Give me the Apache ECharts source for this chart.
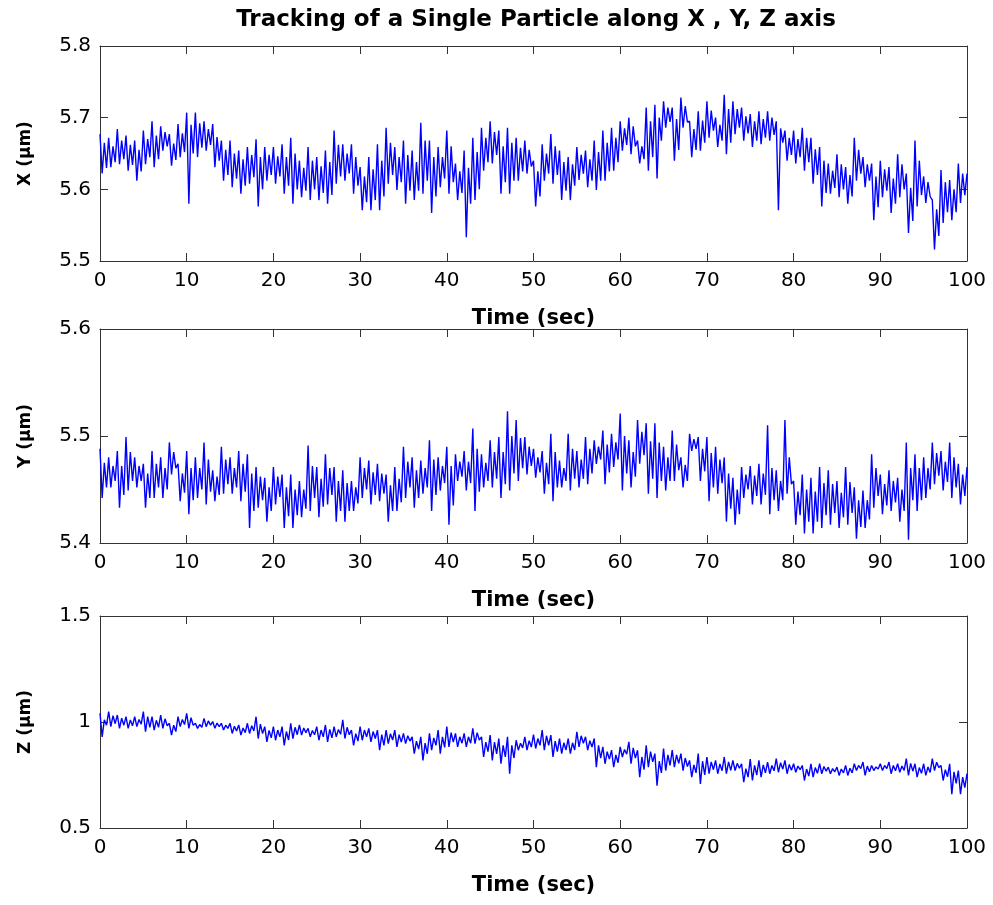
<!DOCTYPE html>
<html>
<head>
<meta charset="utf-8">
<script src="https://cdn.jsdelivr.net/npm/echarts@6/dist/echarts.min.js"></script>
<style>
html,body{margin:0;padding:0;background:#fff;}
#chart{width:993px;height:905px;}
</style>
</head>
<body>
<div id="chart"></div>
<script>
// Four readings per second: t (hi), t+0.25 (lo), t+0.5 (hi2), t+0.75 (lo2), t = 0..100
const timeSeconds = [0,1,2,3,4,5,6,7,8,9,10,11,12,13,14,15,16,17,18,19,20,21,22,23,24,25,26,27,28,29,30,31,32,33,34,35,36,37,38,39,40,41,42,43,44,45,46,47,48,49,50,51,52,53,54,55,56,57,58,59,60,61,62,63,64,65,66,67,68,69,70,71,72,73,74,75,76,77,78,79,80,81,82,83,84,85,86,87,88,89,90,91,92,93,94,95,96,97,98,99,100];

const xHi = [5.677,5.672,5.684,5.675,5.668,5.682,5.695,5.688,5.677,5.691,
5.707,5.707,5.695,5.691,5.668,5.668,5.654,5.659,5.670,5.659,
5.659,5.663,5.672,5.640,5.659,5.645,5.654,5.682,5.663,5.663,
5.631,5.645,5.663,5.686,5.659,5.668,5.654,5.693,5.668,5.659,
5.682,5.636,5.654,5.672,5.686,5.695,5.682,5.686,5.672,5.668,
5.640,5.663,5.677,5.654,5.645,5.659,5.654,5.668,5.682,5.686,
5.695,5.700,5.668,5.714,5.718,5.723,5.714,5.728,5.695,5.709,
5.723,5.700,5.732,5.723,5.714,5.705,5.709,5.709,5.695,5.682,
5.682,5.686,5.672,5.659,5.636,5.649,5.631,5.672,5.645,5.636,
5.640,5.631,5.649,5.622,5.668,5.618,5.585,5.627,5.613,5.636,5.622];
const xLo = [5.622,5.631,5.635,5.626,5.612,5.635,5.631,5.654,5.633,5.645,
5.580,5.645,5.654,5.631,5.612,5.603,5.594,5.608,5.576,5.612,
5.608,5.594,5.580,5.589,5.585,5.585,5.580,5.608,5.612,5.594,
5.571,5.571,5.571,5.608,5.599,5.580,5.585,5.594,5.567,5.603,
5.594,5.585,5.533,5.585,5.626,5.636,5.594,5.594,5.612,5.622,
5.576,5.612,5.608,5.585,5.585,5.613,5.603,5.599,5.612,5.626,
5.654,5.649,5.636,5.626,5.615,5.686,5.640,5.686,5.645,5.654,
5.672,5.659,5.649,5.677,5.668,5.659,5.663,5.668,5.571,5.640,
5.636,5.626,5.608,5.576,5.594,5.589,5.580,5.612,5.603,5.557,
5.589,5.567,5.589,5.539,5.576,5.581,5.516,5.553,5.557,5.581,5.590];
const xHi2 = [5.665,5.660,5.668,5.662,5.655,5.670,5.675,5.680,5.664,5.678,
5.690,5.692,5.684,5.673,5.655,5.650,5.642,5.648,5.645,5.648,
5.646,5.645,5.650,5.630,5.640,5.632,5.638,5.662,5.650,5.645,
5.618,5.628,5.640,5.665,5.645,5.648,5.638,5.668,5.645,5.645,
5.660,5.625,5.630,5.652,5.672,5.680,5.660,5.665,5.658,5.655,
5.625,5.650,5.660,5.638,5.635,5.648,5.642,5.652,5.665,5.672,
5.685,5.688,5.660,5.695,5.700,5.714,5.698,5.716,5.684,5.696,
5.710,5.690,5.712,5.712,5.702,5.695,5.698,5.700,5.685,5.672,
5.670,5.672,5.656,5.640,5.626,5.635,5.620,5.655,5.635,5.618,
5.628,5.615,5.635,5.602,5.640,5.610,5.572,5.610,5.600,5.622,5.610];
const xLo2 = [5.630,5.638,5.642,5.634,5.625,5.645,5.642,5.660,5.641,5.652,
5.650,5.658,5.662,5.640,5.620,5.615,5.605,5.617,5.600,5.620,
5.618,5.605,5.600,5.598,5.600,5.595,5.592,5.618,5.622,5.605,
5.582,5.585,5.590,5.620,5.610,5.598,5.598,5.612,5.590,5.615,
5.610,5.595,5.580,5.600,5.638,5.648,5.610,5.612,5.625,5.632,
5.590,5.622,5.620,5.598,5.605,5.622,5.612,5.612,5.625,5.638,
5.662,5.660,5.642,5.645,5.668,5.694,5.655,5.694,5.655,5.665,
5.682,5.668,5.665,5.686,5.678,5.668,5.672,5.676,5.665,5.648,
5.645,5.638,5.620,5.595,5.602,5.600,5.590,5.622,5.612,5.575,
5.598,5.580,5.600,5.556,5.592,5.590,5.535,5.568,5.568,5.592,5.600];

const yHi = [5.488,5.480,5.486,5.499,5.480,5.474,5.486,5.480,5.494,5.474,
5.486,5.480,5.494,5.468,5.490,5.480,5.486,5.483,5.471,5.461,
5.471,5.464,5.464,5.458,5.491,5.471,5.483,5.471,5.468,5.458,
5.480,5.477,5.474,5.464,5.471,5.490,5.480,5.477,5.496,5.480,
5.490,5.483,5.486,5.507,5.483,5.496,5.499,5.523,5.515,5.499,
5.488,5.486,5.502,5.477,5.502,5.486,5.499,5.496,5.505,5.502,
5.521,5.496,5.515,5.512,5.512,5.490,5.505,5.480,5.502,5.499,
5.499,5.490,5.480,5.461,5.471,5.472,5.474,5.510,5.468,5.515,
5.458,5.464,5.461,5.471,5.468,5.458,5.471,5.452,5.449,5.483,
5.464,5.468,5.461,5.494,5.483,5.480,5.494,5.486,5.494,5.474,5.471];
const yLo = [5.442,5.452,5.433,5.449,5.452,5.433,5.442,5.442,5.464,5.439,
5.427,5.442,5.436,5.439,5.446,5.446,5.439,5.414,5.433,5.420,
5.436,5.414,5.414,5.424,5.430,5.424,5.436,5.420,5.420,5.430,
5.442,5.436,5.439,5.420,5.430,5.442,5.433,5.446,5.430,5.449,
5.417,5.458,5.449,5.430,5.452,5.452,5.442,5.449,5.458,5.464,
5.461,5.446,5.439,5.452,5.449,5.452,5.455,5.474,5.455,5.471,
5.449,5.452,5.474,5.446,5.442,5.449,5.458,5.452,5.486,5.458,
5.439,5.446,5.420,5.417,5.442,5.436,5.436,5.427,5.430,5.446,
5.417,5.409,5.409,5.414,5.417,5.414,5.417,5.404,5.414,5.433,
5.427,5.430,5.420,5.403,5.430,5.442,5.455,5.449,5.442,5.436,5.433];
const yHi2 = [5.475,5.472,5.472,5.485,5.472,5.465,5.474,5.470,5.485,5.465,
5.470,5.470,5.478,5.462,5.478,5.470,5.474,5.465,5.462,5.452,
5.462,5.452,5.450,5.450,5.472,5.460,5.470,5.458,5.456,5.452,
5.470,5.466,5.465,5.454,5.460,5.476,5.468,5.470,5.478,5.472,
5.472,5.476,5.476,5.488,5.475,5.485,5.485,5.500,5.498,5.490,
5.480,5.475,5.485,5.470,5.488,5.478,5.488,5.490,5.492,5.494,
5.500,5.485,5.504,5.495,5.494,5.480,5.492,5.473,5.497,5.488,
5.484,5.478,5.465,5.450,5.464,5.463,5.465,5.470,5.458,5.480,
5.448,5.450,5.448,5.456,5.455,5.447,5.457,5.440,5.440,5.470,
5.455,5.458,5.450,5.470,5.470,5.470,5.484,5.476,5.480,5.464,5.460];
const yLo2 = [5.452,5.458,5.445,5.458,5.458,5.442,5.452,5.450,5.470,5.447,
5.440,5.450,5.448,5.445,5.455,5.452,5.448,5.430,5.440,5.430,
5.443,5.425,5.426,5.432,5.442,5.434,5.445,5.430,5.430,5.437,
5.450,5.445,5.446,5.430,5.438,5.452,5.442,5.452,5.445,5.456,
5.435,5.462,5.456,5.448,5.458,5.460,5.455,5.465,5.470,5.472,
5.466,5.455,5.452,5.458,5.460,5.460,5.465,5.478,5.466,5.478,
5.465,5.462,5.482,5.460,5.458,5.458,5.468,5.458,5.488,5.467,
5.452,5.456,5.432,5.427,5.450,5.444,5.445,5.440,5.440,5.455,
5.426,5.420,5.420,5.426,5.428,5.424,5.428,5.415,5.422,5.444,
5.435,5.438,5.430,5.440,5.440,5.450,5.463,5.457,5.452,5.444,5.440];

const zHi = [1.041,1.049,1.033,1.025,1.025,1.049,1.025,1.033,0.994,1.025,
1.041,0.994,1.017,1.002,0.994,0.994,0.986,0.994,1.025,0.978,
0.978,0.978,0.994,0.986,0.970,0.978,0.986,0.978,1.010,0.962,
0.978,0.970,0.962,0.962,0.962,0.946,0.930,0.930,0.946,0.962,
0.978,0.946,0.946,0.970,0.930,0.938,0.922,0.930,0.914,0.930,
0.940,0.962,0.938,0.922,0.922,0.954,0.930,0.922,0.883,0.867,
0.883,0.906,0.867,0.890,0.851,0.875,0.867,0.851,0.819,0.851,
0.835,0.819,0.835,0.819,0.803,0.825,0.819,0.811,0.827,0.819,
0.803,0.795,0.803,0.803,0.787,0.787,0.795,0.803,0.811,0.795,
0.803,0.811,0.803,0.827,0.803,0.803,0.827,0.795,0.803,0.771,0.756];
const zLo = [0.930,0.978,0.970,0.970,0.978,0.954,0.962,0.970,0.938,0.978,
0.970,0.970,0.978,0.970,0.962,0.946,0.938,0.946,0.922,0.906,
0.914,0.890,0.922,0.938,0.930,0.914,0.906,0.930,0.922,0.890,
0.914,0.906,0.867,0.898,0.883,0.898,0.851,0.819,0.867,0.851,
0.883,0.883,0.883,0.898,0.835,0.819,0.803,0.756,0.867,0.867,
0.875,0.867,0.835,0.851,0.851,0.883,0.867,0.787,0.803,0.787,
0.835,0.803,0.740,0.787,0.700,0.771,0.787,0.771,0.740,0.708,
0.756,0.756,0.756,0.771,0.716,0.724,0.740,0.756,0.763,0.756,
0.763,0.724,0.740,0.756,0.756,0.748,0.748,0.771,0.748,0.771,
0.771,0.756,0.763,0.748,0.740,0.748,0.771,0.724,0.660,0.660,0.613];
const zHi2 = [1.010,1.030,1.018,1.010,1.012,1.025,1.008,1.015,0.985,1.012,
1.020,0.988,1.005,0.995,0.985,0.980,0.972,0.982,0.990,0.960,
0.962,0.955,0.975,0.972,0.960,0.962,0.965,0.965,0.975,0.945,
0.962,0.955,0.940,0.945,0.940,0.935,0.910,0.900,0.925,0.930,
0.950,0.930,0.930,0.950,0.905,0.905,0.890,0.890,0.900,0.912,
0.922,0.935,0.910,0.902,0.902,0.935,0.912,0.890,0.860,0.845,
0.870,0.878,0.835,0.860,0.815,0.845,0.845,0.830,0.798,0.815,
0.812,0.802,0.812,0.805,0.780,0.795,0.798,0.795,0.808,0.800,
0.792,0.778,0.785,0.790,0.780,0.778,0.782,0.795,0.792,0.788,
0.795,0.795,0.792,0.805,0.785,0.788,0.810,0.775,0.765,0.740,0.700];
const zLo2 = [0.985,0.992,0.985,0.982,0.990,0.975,0.975,0.982,0.955,0.988,
0.985,0.975,0.985,0.978,0.970,0.958,0.950,0.958,0.945,0.925,
0.930,0.915,0.940,0.950,0.940,0.930,0.925,0.942,0.940,0.910,
0.930,0.922,0.890,0.915,0.905,0.910,0.872,0.850,0.890,0.880,
0.905,0.900,0.900,0.915,0.860,0.850,0.835,0.830,0.878,0.882,
0.890,0.890,0.860,0.868,0.868,0.900,0.882,0.830,0.825,0.808,
0.848,0.830,0.775,0.812,0.760,0.795,0.805,0.790,0.760,0.750,
0.775,0.770,0.772,0.782,0.740,0.750,0.760,0.770,0.778,0.772,
0.775,0.745,0.758,0.768,0.765,0.760,0.760,0.780,0.765,0.778,
0.780,0.770,0.772,0.768,0.758,0.762,0.785,0.742,0.710,0.690,0.650];

const titleText = 'Tracking of a Single Particle along X , Y, Z axis';
const xAxisName = 'Time (sec)';
const yNames = ['X (\u03bcm)', 'Y (\u03bcm)', 'Z (\u03bcm)'];
const yRanges = [[5.5, 5.8, 0.1], [5.4, 5.6, 0.1], [0.5, 1.5, 0.5]];
const xRange = [0, 100, 10];

function buildSeries(hi, lo, hi2, lo2) {
  const out = [];
  const offsets = [0, 0.25, 0.5, 0.75];
  const cols = [hi, lo, hi2, lo2];
  for (let i = 0; i < timeSeconds.length; i++) {
    for (let k = 0; k < 4; k++) {
      const t = timeSeconds[i] + offsets[k];
      if (t <= xRange[1]) out.push([t, cols[k][i]]);
    }
  }
  return out;
}

const FONT = 'DejaVu Sans, Liberation Sans, Arial, sans-serif';
const frameColor = '#333';
const grids = [
  {left: 100, right: 26, top: 46, height: 215},
  {left: 100, right: 26, top: 329, height: 214},
  {left: 100, right: 26, top: 616, height: 212}
];

const xAxes = [], yAxes = [];
grids.forEach((g, i) => {
  xAxes.push({
    type: 'value', gridIndex: i, min: xRange[0], max: xRange[1], interval: xRange[2],
    position: 'bottom',
    axisLine: {onZero: false, lineStyle: {color: frameColor, width: 1}},
    axisTick: {inside: true, length: 8, lineStyle: {color: frameColor}},
    axisLabel: {fontSize: 20, color: '#000', fontFamily: FONT, margin: 10},
    splitLine: {show: false},
    name: xAxisName, nameLocation: 'middle', nameGap: 47,
    nameTextStyle: {fontSize: 21, fontWeight: 'bold', color: '#000', fontFamily: FONT}
  });
  xAxes.push({
    type: 'value', gridIndex: i, min: xRange[0], max: xRange[1], interval: xRange[2],
    position: 'top',
    axisLine: {onZero: false, lineStyle: {color: frameColor, width: 1}},
    axisTick: {inside: true, length: 8, lineStyle: {color: frameColor}},
    axisLabel: {show: false}, splitLine: {show: false}
  });
  const r = yRanges[i];
  yAxes.push({
    type: 'value', gridIndex: i, min: r[0], max: r[1], interval: r[2],
    position: 'left',
    axisLine: {onZero: false, lineStyle: {color: frameColor, width: 1}},
    axisTick: {inside: true, length: 8, lineStyle: {color: frameColor}},
    axisLabel: {fontSize: 20, color: '#000', fontFamily: FONT, margin: 9,
      formatter: v => String(parseFloat(v.toFixed(2)))},
    splitLine: {show: false},
    name: yNames[i], nameLocation: 'middle', nameGap: 66, nameRotate: 90,
    nameTextStyle: {fontSize: 17, fontWeight: 'bold', color: '#000', fontFamily: FONT}
  });
  yAxes.push({
    type: 'value', gridIndex: i, min: r[0], max: r[1], interval: r[2],
    position: 'right',
    axisLine: {onZero: false, lineStyle: {color: frameColor, width: 1}},
    axisTick: {inside: true, length: 8, lineStyle: {color: frameColor}},
    axisLabel: {show: false}, splitLine: {show: false}
  });
});

const seriesData = [
  buildSeries(xHi, xLo, xHi2, xLo2),
  buildSeries(yHi, yLo, yHi2, yLo2),
  buildSeries(zHi, zLo, zHi2, zLo2)
];

const chart = echarts.init(document.getElementById('chart'));
chart.setOption({
  animation: false,
  backgroundColor: '#fff',
  title: {
    text: titleText, left: 531, top: 4, textAlign: 'center',
    textStyle: {fontSize: 23, fontWeight: 'bold', color: '#000', fontFamily: FONT}
  },
  grid: grids,
  xAxis: xAxes,
  yAxis: yAxes,
  series: seriesData.map((d, i) => ({
    type: 'line', xAxisIndex: i * 2, yAxisIndex: i * 2, data: d,
    showSymbol: false, symbol: 'none',
    lineStyle: {color: '#0000ff', width: 1.4},
    clip: true
  }))
});
</script>
</body>
</html>
